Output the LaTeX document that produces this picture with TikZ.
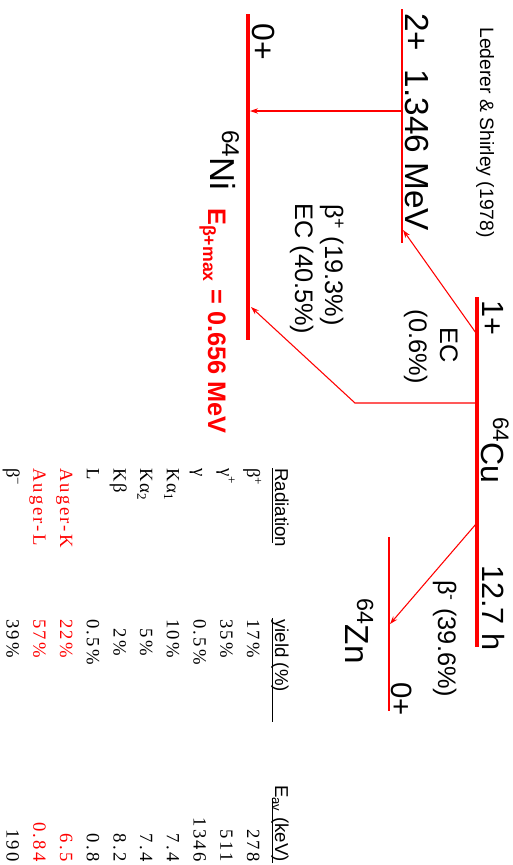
\documentclass[tikz,border=0pt]{standalone}
\usepackage{fontspec}
\setmainfont{Liberation Sans}
\newfontfamily\tabfont[LetterSpace=12]{Liberation Serif}
\usetikzlibrary{arrows.meta}
\definecolor{DecayRed}{RGB}{255, 0, 0}

\begin{document}
\begin{tikzpicture}[x=0.75pt, y=-0.75pt,
    statebar/.style={draw=DecayRed, line width=3.2pt},
    thinbar/.style={draw=DecayRed, line width=2pt},
    decayarrow/.style={draw=DecayRed, line width=0.8pt, -{Stealth[length=6pt, width=4pt]}},
    biglabel/.style={rotate=-90, inner sep=0pt, anchor=base west, font=\fontsize{24}{28}\selectfont},
    branchlabel/.style={rotate=-90, inner sep=0pt, anchor=base, font=\fontsize{19}{22}\selectfont},
    tablehead/.style={rotate=-90, inner sep=0pt, anchor=base west, font=\fontsize{14}{16}\selectfont},
    tablecell/.style={rotate=-90, inner sep=0pt, anchor=base west, font=\tabfont\fontsize{14}{16}\selectfont},
    tablenum/.style={tablecell, anchor=base east}
]
\useasboundingbox (0,0) rectangle (513,865);

% Source
\node[rotate=-90, inner sep=0pt, anchor=base west, font=\fontsize{14.5}{16}\selectfont] (src) at (480,27) {Lederer \& Shirley (1978)};

% 64Cu
\draw[statebar] (477,297) -- (477,647);
\node[biglabel, font=\fontsize{23}{28}\selectfont] (cuSpin) at (482,300) {1+};
\node[biglabel] (cuName) at (481,417) {\textsuperscript{64}Cu};
\node[biglabel, font=\fontsize{23}{28}\selectfont] (cuLife) at (482,565) {12.7 h};

% 64Ni
\draw[statebar] (248,14) -- (248,340);
\draw[thinbar] (402,9) -- (402,243);
\node[biglabel] (niGs) at (252,23) {0+};
\node[biglabel, font=\fontsize{25}{28}\selectfont] (niEx) at (405,13) {2+\ \ 1.346 MeV};
\node[biglabel, font=\fontsize{26}{28}\selectfont] (niName) at (210,130) {\textsuperscript{64}Ni};
\node[biglabel, DecayRed, font=\fontsize{19}{22}\bfseries\selectfont] (eMax) at (208,208) {E\textsubscript{β+max} = 0.656 MeV};

% 64Zn
\draw[thinbar] (389,537) -- (389,711);
\node[biglabel, font=\fontsize{25}{28}\selectfont] (znName) at (345,598) {\textsuperscript{64}Zn};
\node[biglabel, font=\fontsize{22}{28}\selectfont] (znGs) at (391,682) {0+};

% Transitions
\coordinate (gamTop) at (401,111);
\coordinate (gamEnd) at (250,111);
\coordinate (ecStart) at (476,333);
\coordinate (ecEnd) at (403,230);
\coordinate (bpStart) at (476,403);
\coordinate (bpKnee) at (355,403);
\coordinate (bpEnd) at (251,307);
\coordinate (bmStart) at (476,524);
\coordinate (bmEnd) at (390,624);
\draw[decayarrow] (gamTop) -- (gamEnd);
\draw[decayarrow] (ecStart) -- (ecEnd);
\draw[decayarrow] (bpStart) -- (bpKnee) -- (bpEnd);
\draw[decayarrow] (bmStart) -- (bmEnd);

\node[branchlabel] (ecTop) at (440,345) {EC};
\node[branchlabel] (ecTopPct) at (409,347) {(0.6\%)};
\node[branchlabel] (bpLbl) at (325,265) {β\textsuperscript{+} (19.3\%)};
\node[branchlabel] (ecLbl) at (295,269) {EC (40.5\%)};
\node[branchlabel, anchor=base west] (bmLbl) at (438,580) {β\textsuperscript{-} (39.6\%)};

% Table
\node[tablehead] (radHdr) at (275,468) {Radiation};
\node[tablehead] (yldHdr) at (275,619) {yield (\%)};
\node[tablehead, anchor=base east] (eavHdr) at (275,862) {E\textsubscript{av} (keV)};
\draw[line width=0.9pt] (272.5,468) -- (272.5,543);
\draw[line width=0.9pt] (272.5,618) -- (272.5,722);
\draw[line width=0.9pt] (272.5,798) -- (272.5,863);

\node[tablecell] (r1) at (247,468) {β\textsuperscript{+}};
\node[tablecell] (y1) at (247,619) {17\%};
\node[tablenum] (e1) at (247,862) {278};
\node[tablecell] (r2) at (220.3,468) {γ\textsuperscript{+}};
\node[tablecell] (y2) at (220.3,619) {35\%};
\node[tablenum] (e2) at (220.3,862) {511};
\node[tablecell] (r3) at (193.6,468) {γ};
\node[tablecell] (y3) at (193.6,619) {0.5\%};
\node[tablenum] (e3) at (193.6,862) {1346};
\node[tablecell] (r4) at (166.9,468) {Kα\textsubscript{1}};
\node[tablecell] (y4) at (166.9,619) {10\%};
\node[tablenum] (e4) at (166.9,862) {7.4};
\node[tablecell] (r5) at (140.2,468) {Kα\textsubscript{2}};
\node[tablecell] (y5) at (140.2,619) {\phantom{1}5\%};
\node[tablenum] (e5) at (140.2,862) {7.4};
\node[tablecell] (r6) at (113.5,468) {Kβ};
\node[tablecell] (y6) at (113.5,619) {\phantom{1}2\%};
\node[tablenum] (e6) at (113.5,862) {8.2};
\node[tablecell] (r7) at (86.8,468) {L};
\node[tablecell] (y7) at (86.8,619) {0.5\%};
\node[tablenum] (e7) at (86.8,862) {0.8};
\node[tablecell, DecayRed] (r8) at (60.1,468) {Auger-K};
\node[tablecell, DecayRed] (y8) at (60.1,619) {22\%};
\node[tablenum, DecayRed] (e8) at (60.1,862) {6.5};
\node[tablecell, DecayRed] (r9) at (33.4,468) {Auger-L};
\node[tablecell, DecayRed] (y9) at (33.4,619) {57\%};
\node[tablenum, DecayRed] (e9) at (33.4,862) {0.84};
\node[tablecell] (r10) at (6.7,468) {β\textsuperscript{−}};
\node[tablecell] (y10) at (6.7,619) {39\%};
\node[tablenum] (e10) at (6.7,862) {190};

\end{tikzpicture}
\end{document}
